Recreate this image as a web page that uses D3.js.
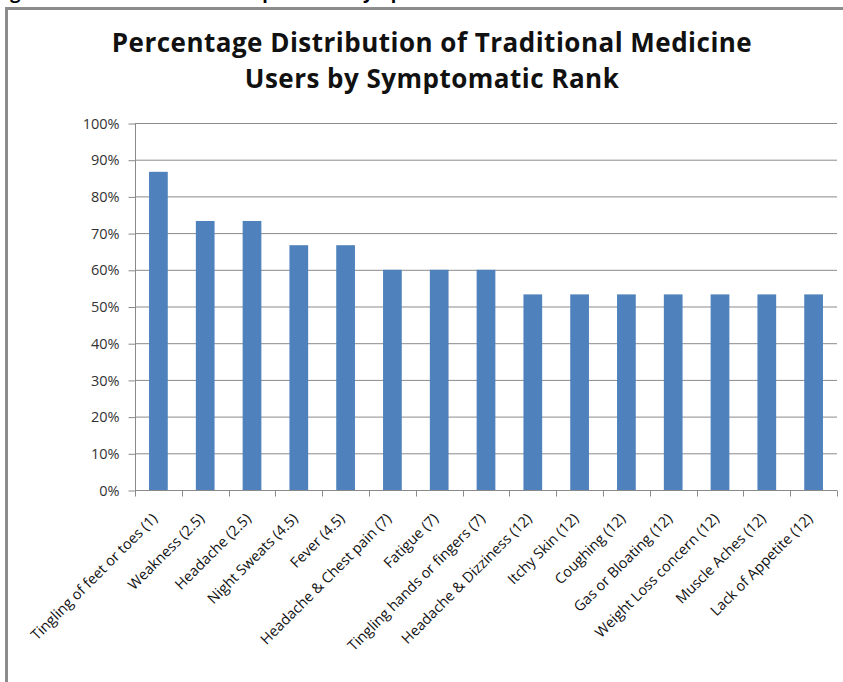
<!DOCTYPE html>
<html>
<head>
<meta charset="utf-8">
<script src="https://cdn.jsdelivr.net/npm/d3@7/dist/d3.min.js"></script>
<style>
  body { margin: 0; background: #fff; }
  svg { display: block; }
</style>
</head>
<body>
<svg id="chart" width="843" height="682"></svg>
<script>
// data
var symptoms = ["Tingling of feet or toes (1)", "Weakness (2.5)", "Headache (2.5)", "Night Sweats (4.5)",
    "Fever (4.5)", "Headache & Chest pain (7)", "Fatigue (7)", "Tingling hands or fingers (7)",
    "Headache & Dizziness (12)", "Itchy Skin (12)", "Coughing (12)", "Gas or Bloating (12)",
    "Weight Loss concern (12)", "Muscle Aches (12)", "Lack of Appetite (12)"];
var percents = [86.7, 73.3, 73.3, 66.7, 66.7, 60, 60, 60, 53.3, 53.3, 53.3, 53.3, 53.3, 53.3, 53.3];
var yTicks = [0, 10, 20, 30, 40, 50, 60, 70, 80, 90, 100];
var titleLines = ["Percentage Distribution of Traditional Medicine", "Users by Symptomatic Rank"];

var svg = d3.select("#chart");
var font = "'Open Sans', sans-serif";

// caption of the page above the chart, mostly cut off by the crop
svg.append("text")
    .attr("x", 712).attr("y", -1.5)
    .attr("text-anchor", "end")
    .attr("font-family", font).attr("font-weight", "bold").attr("font-size", 18)
    .text("Figure 1: Distribution of most prevalent symptoms of traditional medicine users");

// chart frame
svg.append("rect")
    .attr("x", 6.5).attr("y", 8.5)
    .attr("width", 900).attr("height", 700)
    .attr("fill", "#fff")
    .attr("stroke", "#8c8c8c").attr("stroke-width", 3);

// plot area
var x = d3.scaleBand()
    .domain(symptoms)
    .range([135, 837])
    .paddingInner(0.6)
    .paddingOuter(0.3);

var y = d3.scaleLinear()
    .domain([0, 100])
    .range([490, 123]);

// gridlines
svg.append("g")
    .selectAll("line")
    .data(yTicks.slice(1))
    .enter().append("line")
    .attr("x1", 135).attr("x2", 837)
    .attr("y1", function (d) { return y(d) + 0.5; })
    .attr("y2", function (d) { return y(d) + 0.5; })
    .attr("stroke", "#8a8a8a").attr("stroke-width", 1);

// bars
svg.append("g")
    .selectAll("rect")
    .data(percents)
    .enter().append("rect")
    .attr("x", function (d, i) { return x(symptoms[i]); })
    .attr("width", x.bandwidth())
    .attr("y", function (d) { return y(d); })
    .attr("height", function (d) { return y(0) - y(d); })
    .attr("fill", "#4f81bd");

// y axis
var yAxis = svg.append("g")
    .attr("transform", "translate(135.5,0.5)")
    .call(d3.axisLeft(y).tickValues(yTicks).tickSize(7).tickPadding(9)
        .tickFormat(function (d) { return d + "%"; }));
yAxis.select(".domain").attr("stroke", "#8a8a8a").attr("d", "M0," + y(100) + "V" + y(0));
yAxis.selectAll(".tick line").attr("stroke", "#8a8a8a");
yAxis.selectAll("text")
    .attr("font-family", font).attr("font-size", 14.5).attr("fill", "#333");

// x axis: ticks sit between the bars
var edges = d3.range(symptoms.length + 1).map(function (i) { return 135 + i * (702 / symptoms.length); });
var xg = svg.append("g").attr("transform", "translate(0," + (y(0) + 0.5) + ")");
xg.append("line")
    .attr("x1", 135).attr("x2", 837)
    .attr("stroke", "#8a8a8a");
xg.selectAll("line.tk")
    .data(edges)
    .enter().append("line")
    .attr("class", "tk")
    .attr("x1", function (d) { return Math.round(d) + 0.5; })
    .attr("x2", function (d) { return Math.round(d) + 0.5; })
    .attr("y1", 0).attr("y2", 6)
    .attr("stroke", "#8a8a8a");
xg.selectAll("text")
    .data(symptoms)
    .enter().append("text")
    .attr("transform", function (d) {
        return "translate(" + (x(d) + x.bandwidth() / 2) + ",29) rotate(-45)";
    })
    .attr("text-anchor", "end")
    .attr("font-family", font).attr("font-size", 14.5).attr("fill", "#111")
    .text(function (d) { return d; });

// title, stretched to the width of the original
var titleWidths = [640, 374];
svg.append("g")
    .selectAll("text")
    .data(titleLines)
    .enter().append("text")
    .attr("x", 432)
    .attr("y", function (d, i) { return 52 + i * 36; })
    .attr("text-anchor", "middle")
    .attr("font-family", font).attr("font-weight", "bold").attr("font-size", 26)
    .attr("fill", "#111")
    .text(function (d) { return d; })
    .each(function (d, i) {
        var natural = this.getComputedTextLength();
        var extra = (titleWidths[i] - natural) / (d.length - 1);
        if (extra > 0) d3.select(this).attr("letter-spacing", extra);
    });
</script>
</body>
</html>
